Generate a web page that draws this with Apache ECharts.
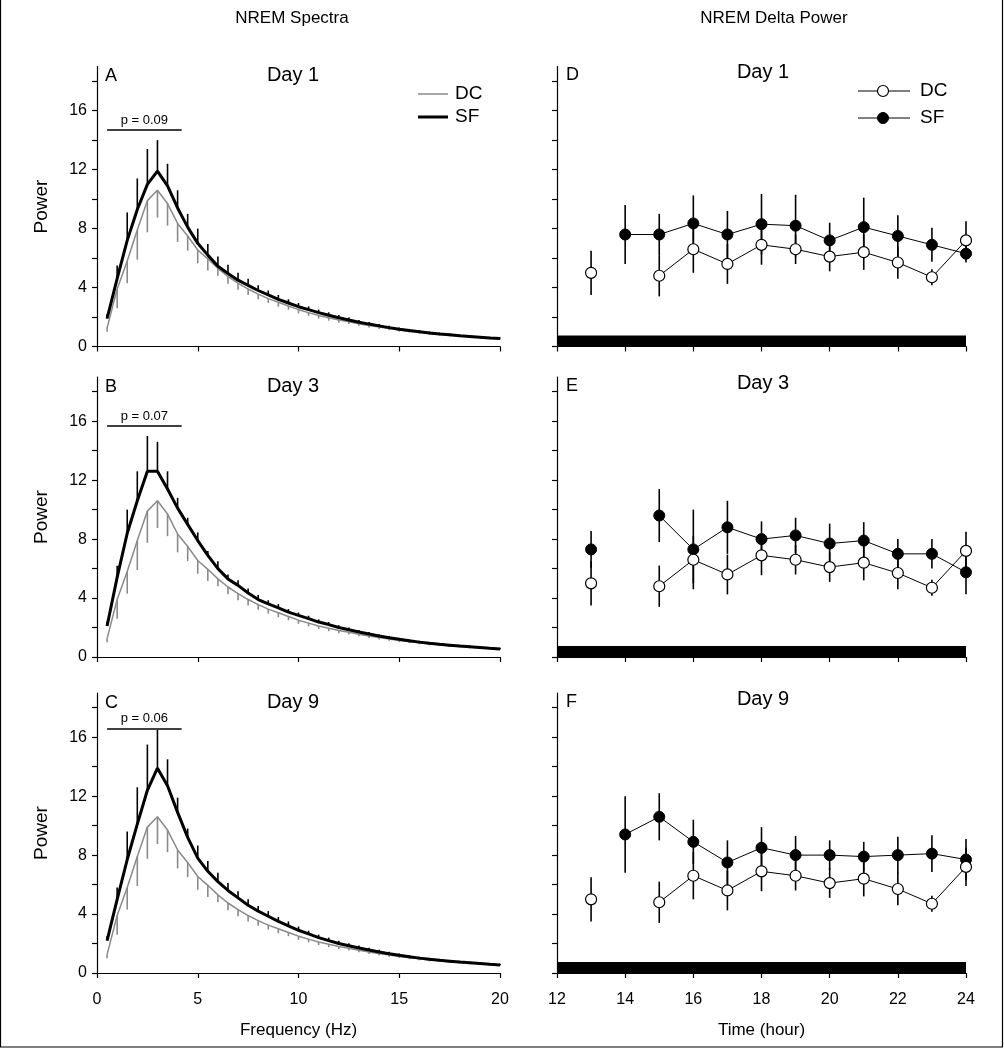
<!DOCTYPE html>
<html>
<head>
<meta charset="utf-8">
<title>NREM Spectra / NREM Delta Power</title>
<script src="https://cdn.jsdelivr.net/npm/echarts/dist/echarts.min.js"></script>
<style>
html,body{margin:0;padding:0;background:#fff;}
#main{width:1004px;height:1050px;}
</style>
</head>
<body>
<div id="main"></div>
<script>
// spectra: 0.5 Hz bins
var freq = [0.5, 1, 1.5, 2, 2.5, 3, 3.5, 4, 4.5, 5,
	5.5, 6, 6.5, 7, 7.5, 8, 8.5, 9, 9.5, 10,
	10.5, 11, 11.5, 12, 12.5, 13, 13.5, 14, 14.5, 15,
	15.5, 16, 16.5, 17, 17.5, 18, 18.5, 19, 19.5, 20];

// DC (control) spectrum, same on every day
var dcSpec = [1.25, 3.9, 5.8, 7.9, 9.9, 10.6, 9.7, 8.35, 7.5, 6.55,
	5.95, 5.3, 4.75, 4.3, 3.9, 3.55, 3.25, 3.0, 2.75, 2.5,
	2.3, 2.1, 1.95, 1.8, 1.68, 1.55, 1.43, 1.32, 1.22, 1.12,
	1.04, 0.96, 0.89, 0.83, 0.77, 0.72, 0.67, 0.62, 0.58, 0.54];
var dcSpecErr = [0.25, 1.3, 1.5, 2.0, 2.15, 1.85, 1.5, 1.25, 1.0, 0.9,
	0.8, 0.5, 0.5, 0.45, 0.4, 0.35, 0.3, 0.3, 0.25, 0.25,
	0.22, 0.2, 0.2, 0.18, 0.16, 0.15, 0.14, 0.13, 0.12, 0.11,
	0.1, 0.1, 0.1, 0.09, 0.09, 0.08, 0.08, 0.08, 0.07, 0.07];

var sfSpecDay1 = [1.9, 4.6, 7.2, 9.3, 11.0, 11.9, 10.9, 9.4, 8.1, 7.0,
	6.2, 5.45, 4.95, 4.5, 4.15, 3.8, 3.5, 3.2, 2.95, 2.7,
	2.5, 2.3, 2.12, 1.95, 1.8, 1.65, 1.52, 1.4, 1.28, 1.17,
	1.08, 1.0, 0.92, 0.85, 0.79, 0.73, 0.68, 0.63, 0.58, 0.54];
var sfSpecDay1Err = [0.3, 0.9, 1.9, 2.1, 2.4, 2.1, 1.5, 1.2, 0.9, 1.0,
	0.75, 0.65, 0.6, 0.5, 0.45, 0.35, 0.3, 0.3, 0.25, 0.25,
	0.22, 0.2, 0.2, 0.18, 0.16, 0.15, 0.14, 0.13, 0.12, 0.12,
	0.11, 0.1, 0.1, 0.1, 0.09, 0.09, 0.08, 0.08, 0.08, 0.07];

var sfSpecDay3 = [2.1, 5.4, 8.4, 10.6, 12.6, 12.6, 11.4, 10.1, 9.0, 7.9,
	6.9, 6.0, 5.3, 4.86, 4.34, 3.9, 3.6, 3.34, 3.05, 2.82,
	2.6, 2.37, 2.2, 2.0, 1.85, 1.7, 1.56, 1.43, 1.31, 1.2,
	1.1, 1.01, 0.93, 0.86, 0.8, 0.74, 0.69, 0.64, 0.59, 0.55];
var sfSpecDay3Err = [0.3, 0.8, 1.6, 2.0, 2.4, 2.0, 1.2, 0.7, 0.45, 0.55,
	0.3, 0.5, 0.3, 0.35, 0.3, 0.3, 0.25, 0.25, 0.2, 0.2,
	0.2, 0.18, 0.17, 0.16, 0.15, 0.14, 0.13, 0.12, 0.11, 0.1,
	0.1, 0.1, 0.09, 0.09, 0.08, 0.08, 0.08, 0.07, 0.07, 0.07];

var sfSpecDay9 = [2.2, 5.0, 7.7, 10.1, 12.4, 13.9, 12.7, 10.9, 9.2, 7.8,
	6.9, 6.2, 5.6, 5.1, 4.6, 4.2, 3.85, 3.5, 3.2, 2.9,
	2.65, 2.4, 2.2, 2.0, 1.85, 1.7, 1.56, 1.43, 1.31, 1.2,
	1.1, 1.01, 0.93, 0.86, 0.8, 0.74, 0.69, 0.64, 0.59, 0.55];
var sfSpecDay9Err = [0.3, 0.8, 1.9, 2.5, 3.1, 2.6, 1.8, 1.0, 0.6, 0.85,
	0.7, 0.6, 0.5, 0.45, 0.4, 0.35, 0.35, 0.3, 0.3, 0.25,
	0.22, 0.2, 0.2, 0.18, 0.17, 0.16, 0.15, 0.14, 0.13, 0.12,
	0.11, 0.1, 0.1, 0.1, 0.09, 0.09, 0.08, 0.08, 0.08, 0.07];

// p value bars over the delta band
var pLabels = ['p = 0.09', 'p = 0.07', 'p = 0.06'];
var pBarLevel = [14.7, 15.7, 16.6];
var pBarFrom = 0.5, pBarTo = 4.2;

// delta power by hour (null = no value)
var hours = [13, 14, 15, 16, 17, 18, 19, 20, 21, 22, 23, 24];
var dcDelta = [5.0, null, 4.8, 6.6, 5.6, 6.9, 6.6, 6.1, 6.4, 5.7, 4.7, 7.2];
var dcDeltaErr = [1.5, null, 1.4, 1.6, 1.35, 1.35, 1.0, 1.0, 1.2, 1.1, 0.55, 1.3];
var sfDeltaDay1 = [null, 7.6, 7.6, 8.35, 7.6, 8.3, 8.2, 7.2, 8.1, 7.5, 6.9, 6.3];
var sfDeltaDay1Err = [null, 2.0, 1.4, 1.9, 1.6, 2.05, 2.1, 1.2, 2.0, 1.4, 1.15, 0.6];
var sfDeltaDay3 = [7.3, null, 9.6, 7.3, 8.8, 8.0, 8.25, 7.7, 7.9, 7.0, 7.0, 5.75];
var sfDeltaDay3Err = [1.25, null, 1.8, 2.7, 1.8, 1.2, 1.2, 1.35, 1.25, 1.0, 1.0, 1.5];
var sfDeltaDay9 = [null, 9.4, 10.6, 8.9, 7.5, 8.5, 8.0, 8.0, 7.9, 8.0, 8.1, 7.7];
var sfDeltaDay9Err = [null, 2.6, 1.6, 1.5, 1.5, 1.4, 1.3, 1.0, 1.0, 1.25, 1.25, 1.4];

// dark phase bar along the bottom of the delta panels
var darkPhase = [12, 24];
var darkBarTop = 0.75;

var powerTicks = [0, 2, 4, 6, 8, 10, 12, 14, 16, 18];
var powerLabels = [0, 4, 8, 12, 16];
var freqTicks = [0, 5, 10, 15, 20];
var hourTicks = [12, 14, 16, 18, 20, 22, 24];

var dayNames = ['Day 1', 'Day 3', 'Day 9'];
var leftLetters = ['A', 'B', 'C'];
var rightLetters = ['D', 'E', 'F'];

var FONT = '"Liberation Sans", Arial, sans-serif';
var GRAY = '#8a8a8a';

var rowTop = [66.5, 377, 693];
var rowH = 280;

function pairs(xs, ys) {
	return xs.map(function (x, i) { return [x, ys[i] == null ? '-' : ys[i]]; });
}
function errData(xs, ys, es) {
	var out = [];
	xs.forEach(function (x, i) { if (ys[i] != null) out.push([x, ys[i], es[i]]); });
	return out;
}
function errBars(dir, color, width) {
	return function (params, api) {
		var x = api.value(0), y = api.value(1), e = api.value(2);
		var lo = dir > 0 ? y : y - e;
		var hi = dir < 0 ? y : y + e;
		var a = api.coord([x, lo]), b = api.coord([x, hi]);
		return {type: 'line', shape: {x1: a[0], y1: a[1], x2: b[0], y2: b[1]},
			style: {stroke: color, lineWidth: width}};
	};
}

var grids = [], xAxes = [], yAxes = [], series = [], graphics = [];

function yAxisCfg(gi, withLabels) {
	return {
		type: 'value', gridIndex: gi, min: 0, max: 19,
		splitLine: {show: false},
		axisLine: {show: true, lineStyle: {color: '#000', width: 1.2}},
		axisTick: {show: true, length: 5, customValues: powerTicks, lineStyle: {color: '#000', width: 1.2}},
		axisLabel: {show: withLabels, customValues: powerLabels, margin: 10,
			color: '#000', fontSize: 16, fontFamily: FONT},
		name: withLabels ? 'Power' : '', nameLocation: 'middle', nameGap: 46, nameRotate: 90,
		nameTextStyle: {color: '#000', fontSize: 19, fontFamily: FONT}
	};
}

var sfSpec = [sfSpecDay1, sfSpecDay3, sfSpecDay9];
var sfSpecErr = [sfSpecDay1Err, sfSpecDay3Err, sfSpecDay9Err];
var sfDelta = [sfDeltaDay1, sfDeltaDay3, sfDeltaDay9];
var sfDeltaErr = [sfDeltaDay1Err, sfDeltaDay3Err, sfDeltaDay9Err];

for (var r = 0; r < 3; r++) {
	var last = r === 2;
	// left: spectra
	var gl = grids.length;
	grids.push({left: 97, top: rowTop[r], width: 403, height: rowH});
	xAxes.push({
		type: 'value', gridIndex: gl, min: 0, max: 20,
		splitLine: {show: false},
		axisLine: {lineStyle: {color: '#000', width: 1.2}},
		axisTick: {show: true, length: 5, customValues: freqTicks, lineStyle: {color: '#000', width: 1.2}},
		axisLabel: {show: last, customValues: freqTicks, margin: 19, color: '#000', fontSize: 16, fontFamily: FONT},
		name: last ? 'Frequency (Hz)' : '', nameLocation: 'middle', nameGap: 49,
		nameTextStyle: {color: '#000', fontSize: 17, fontFamily: FONT}
	});
	yAxes.push(yAxisCfg(gl, true));

	series.push({
		type: 'custom', xAxisIndex: gl, yAxisIndex: gl, z: 2, silent: true,
		renderItem: errBars(-1, GRAY, 1.6), encode: {x: 0, y: 1},
		data: errData(freq, dcSpec, dcSpecErr)
	});
	series.push({
		type: 'line', xAxisIndex: gl, yAxisIndex: gl, z: 3, silent: true,
		showSymbol: false, symbol: 'none', data: pairs(freq, dcSpec),
		lineStyle: {color: GRAY, width: 1.5}
	});
	series.push({
		type: 'custom', xAxisIndex: gl, yAxisIndex: gl, z: 4, silent: true,
		renderItem: errBars(1, '#000', 1.6), encode: {x: 0, y: 1},
		data: errData(freq, sfSpec[r], sfSpecErr[r])
	});
	series.push({
		type: 'line', xAxisIndex: gl, yAxisIndex: gl, z: 5, silent: true,
		showSymbol: false, symbol: 'none', data: pairs(freq, sfSpec[r]),
		lineStyle: {color: '#000', width: 3},
		markLine: {
			silent: true, symbol: 'none', animation: false,
			lineStyle: {color: '#000', width: 1.5, type: 'solid'},
			label: {show: true, position: 'middle', formatter: pLabels[r], color: '#000',
				fontSize: 13, fontFamily: FONT, distance: 3},
			data: [[{coord: [pBarFrom, pBarLevel[r]]}, {coord: [pBarTo, pBarLevel[r]]}]]
		}
	});

	// right: delta power
	var gr = grids.length;
	grids.push({left: 557, top: rowTop[r], width: 409, height: rowH});
	xAxes.push({
		type: 'value', gridIndex: gr, min: 12, max: 24,
		splitLine: {show: false},
		axisLine: {lineStyle: {color: '#000', width: 1.2}},
		axisTick: {show: true, length: 5, customValues: hourTicks, lineStyle: {color: '#000', width: 1.2}},
		axisLabel: {show: last, customValues: hourTicks, margin: 19, color: '#000', fontSize: 16, fontFamily: FONT},
		name: last ? 'Time (hour)' : '', nameLocation: 'middle', nameGap: 49,
		nameTextStyle: {color: '#000', fontSize: 17, fontFamily: FONT}
	});
	yAxes.push(yAxisCfg(gr, false));

	series.push({
		type: 'custom', xAxisIndex: gr, yAxisIndex: gr, z: 2, silent: true,
		renderItem: errBars(0, '#000', 1.6), encode: {x: 0, y: 1},
		data: errData(hours, sfDelta[r], sfDeltaErr[r])
	});
	series.push({
		type: 'custom', xAxisIndex: gr, yAxisIndex: gr, z: 2, silent: true,
		renderItem: errBars(0, '#000', 1.6), encode: {x: 0, y: 1},
		data: errData(hours, dcDelta, dcDeltaErr)
	});
	series.push({
		type: 'line', xAxisIndex: gr, yAxisIndex: gr, z: 3, silent: true,
		symbol: 'circle', symbolSize: 11, showSymbol: true, connectNulls: false,
		data: pairs(hours, sfDelta[r]),
		lineStyle: {color: '#000', width: 1},
		itemStyle: {color: '#000', borderColor: '#000', borderWidth: 1},
		markArea: {
			silent: true, animation: false,
			itemStyle: {color: '#000'},
			data: [[{coord: [darkPhase[0], 0]}, {coord: [darkPhase[1], darkBarTop]}]]
		}
	});
	series.push({
		type: 'line', xAxisIndex: gr, yAxisIndex: gr, z: 4, silent: true,
		symbol: 'circle', symbolSize: 11, showSymbol: true, connectNulls: false,
		data: pairs(hours, dcDelta),
		lineStyle: {color: '#000', width: 1},
		itemStyle: {color: '#fff', borderColor: '#000', borderWidth: 1.2}
	});

	// panel letters and day titles
	graphics.push({type: 'text', left: 105, top: rowTop[r] + 1,
		style: {text: leftLetters[r], font: '18px ' + FONT, fill: '#000'}});
	graphics.push({type: 'text', x: 293, y: rowTop[r] + 9,
		style: {text: dayNames[r], font: '20px ' + FONT, fill: '#000', align: 'center', verticalAlign: 'middle'}});
	graphics.push({type: 'text', left: 566, top: rowTop[r] + 0,
		style: {text: rightLetters[r], font: '18px ' + FONT, fill: '#000'}});
	graphics.push({type: 'text', x: 763, y: rowTop[r] + 6,
		style: {text: dayNames[r], font: '20px ' + FONT, fill: '#000', align: 'center', verticalAlign: 'middle'}});
}

// column headers
graphics.push({type: 'text', x: 292, y: 18,
	style: {text: 'NREM Spectra', font: '17px ' + FONT, fill: '#000', align: 'center', verticalAlign: 'middle'}});
graphics.push({type: 'text', x: 774, y: 18,
	style: {text: 'NREM Delta Power', font: '17px ' + FONT, fill: '#000', align: 'center', verticalAlign: 'middle'}});

// legend, spectra panel A
graphics.push({type: 'line', shape: {x1: 418, y1: 94, x2: 448, y2: 94}, style: {stroke: GRAY, lineWidth: 1.5}});
graphics.push({type: 'text', x: 455, y: 94, style: {text: 'DC', font: '19px ' + FONT, fill: '#000', verticalAlign: 'middle'}});
graphics.push({type: 'line', shape: {x1: 418, y1: 117, x2: 448, y2: 117}, style: {stroke: '#000', lineWidth: 3}});
graphics.push({type: 'text', x: 455, y: 117, style: {text: 'SF', font: '19px ' + FONT, fill: '#000', verticalAlign: 'middle'}});

// legend, delta panel D
graphics.push({type: 'line', shape: {x1: 858, y1: 91, x2: 910, y2: 91}, style: {stroke: '#000', lineWidth: 1}});
graphics.push({type: 'circle', shape: {cx: 883, cy: 91, r: 5.5}, style: {fill: '#fff', stroke: '#000', lineWidth: 1.2}, z: 10});
graphics.push({type: 'text', x: 920, y: 91, style: {text: 'DC', font: '19px ' + FONT, fill: '#000', verticalAlign: 'middle'}});
graphics.push({type: 'line', shape: {x1: 858, y1: 118, x2: 910, y2: 118}, style: {stroke: '#000', lineWidth: 1}});
graphics.push({type: 'circle', shape: {cx: 883, cy: 118, r: 5.5}, style: {fill: '#000', stroke: '#000', lineWidth: 1}, z: 10});
graphics.push({type: 'text', x: 920, y: 118, style: {text: 'SF', font: '19px ' + FONT, fill: '#000', verticalAlign: 'middle'}});

// outer frame
graphics.push({type: 'rect', shape: {x: 0.5, y: -2, width: 1002, height: 1049},
	style: {fill: 'none', stroke: '#000', lineWidth: 1.2}, silent: true});

var chart = echarts.init(document.getElementById('main'), null, {renderer: 'canvas'});
chart.setOption({
	backgroundColor: '#fff',
	animation: false,
	textStyle: {fontFamily: FONT},
	grid: grids,
	xAxis: xAxes,
	yAxis: yAxes,
	series: series,
	graphic: graphics
});
</script>
</body>
</html>
